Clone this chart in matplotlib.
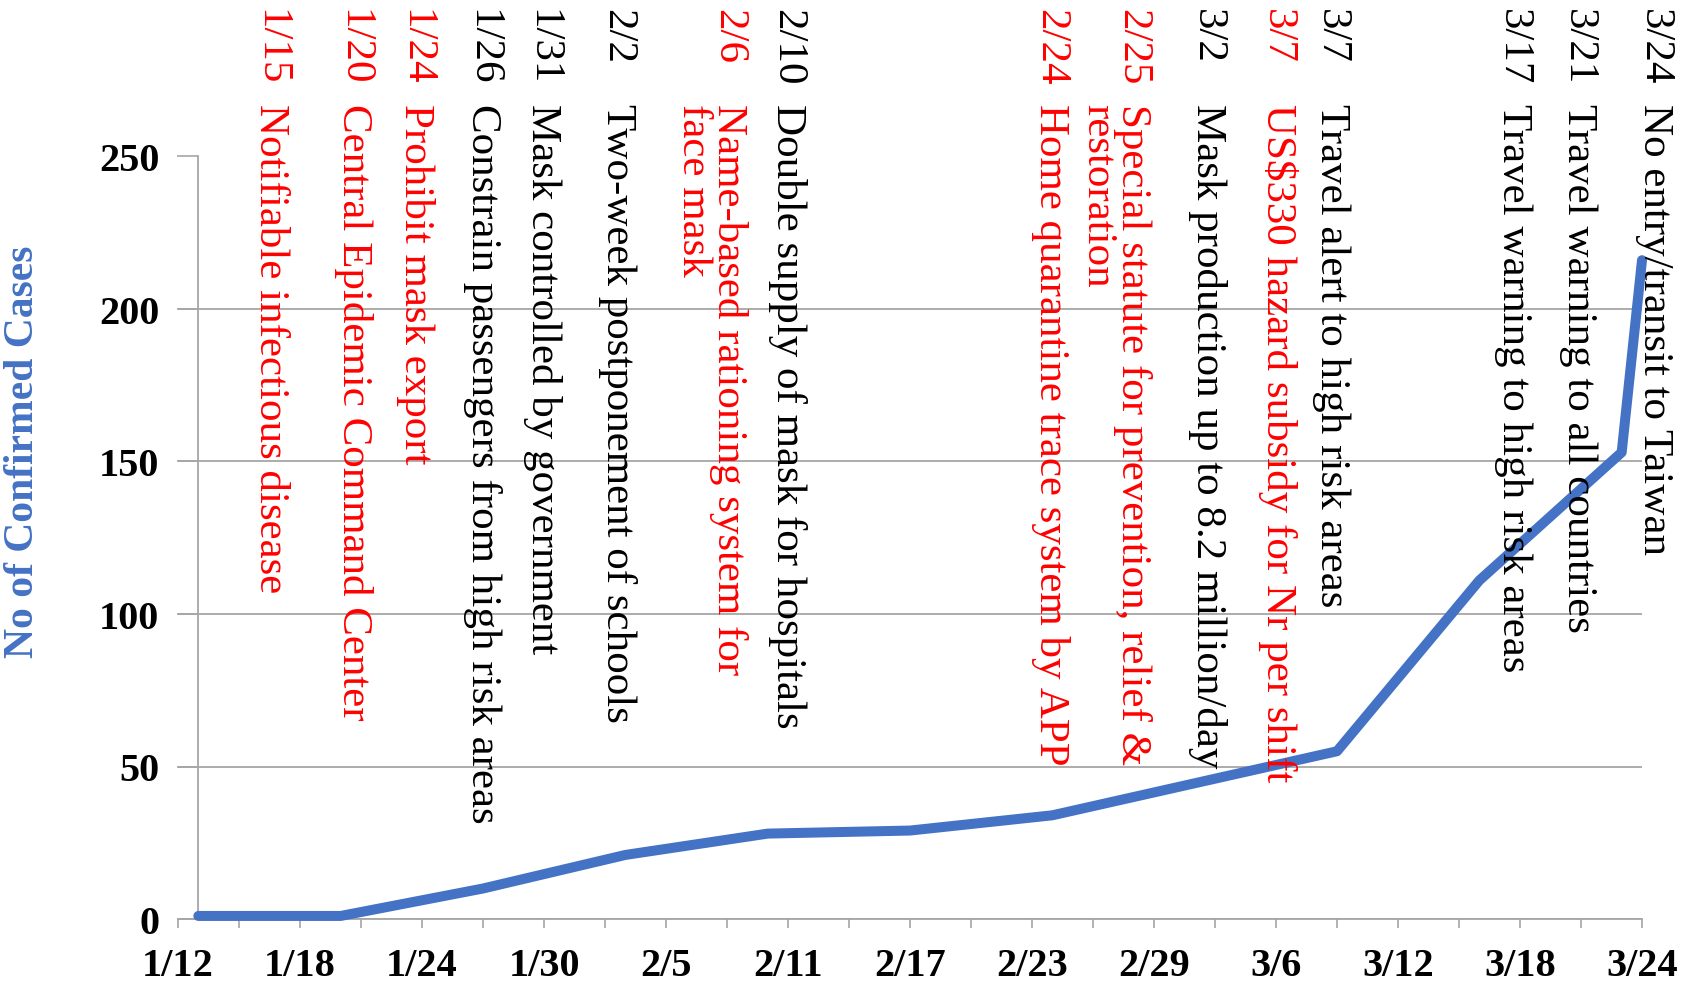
import pandas as pd
import matplotlib
matplotlib.use("Agg")
import matplotlib.pyplot as plt
import matplotlib.transforms as mtransforms

plt.rcParams["font.family"] = ["Liberation Serif", "DejaVu Serif"]

START = pd.Timestamp("2020-01-12")
END = pd.Timestamp("2020-03-24")

# cumulative confirmed cases
case_dates = ["2020-01-13", "2020-01-20", "2020-01-27", "2020-02-03", "2020-02-10",
              "2020-02-17", "2020-02-24", "2020-03-09", "2020-03-16", "2020-03-23",
              "2020-03-24"]
cases = [1, 1, 10, 21, 28, 29, 34, 55, 111, 153, 216]

y_ticks = [0, 50, 100, 150, 200, 250]

# policy notes
note_dates = ["1/15", "1/20", "1/24", "1/26", "1/31", "2/2", "2/6", "2/10",
              "2/24", "2/25", "3/2", "3/7", "3/7", "3/17", "3/21", "3/24"]
note_texts = [
    "Notifiable infectious disease",
    "Central Epidemic Command Center",
    "Prohibit mask export",
    "Constrain passengers from high risk areas",
    "Mask controlled by government",
    "Two-week postponement of schools",
    "Name-based rationing system for\nface mask",
    "Double supply of mask for hospitals",
    "Home quarantine trace system by APP",
    "Special statute for prevention, relief &\nrestoration",
    "Mask production up to 8.2 million/day",
    "US$330 hazard subsidy for Nr per shift",
    "Travel alert to high risk areas",
    "Travel warning to high risk areas",
    "Travel warning to all countries",
    "No entry/transit to Taiwan",
]
note_red = [True, True, True, False, False, False, True, False,
            True, True, False, True, False, False, False, False]

# where each note column sits (days after 1/12, baseline of first line)
note_x = [4.03, 8.12, 11.17, 14.46, 17.41, 21.10, 26.56, 29.46,
          42.40, 46.43, 50.12, 53.57, 56.22, 65.17, 68.37, 72.11]

BLUE = "#4472C4"
GRID = "#A6A6A6"

days = (pd.to_datetime(case_dates) - START).days
major = pd.date_range(START, END, freq="6D")
minor = pd.date_range(START, END, freq="3D")

W, H = 1685, 987
fig = plt.figure(figsize=(W / 100, H / 100), dpi=100)
ax = fig.add_axes([178 / W, 1 - 920 / H, (1642 - 178) / W, (920 - 157.5) / H])

ax.plot(days, cases, color=BLUE, lw=7.2, solid_capstyle="round",
        solid_joinstyle="round", clip_on=False, zorder=3)

ax.set_xlim(0, (END - START).days)
ax.set_ylim(0, 250)

for s in ("top", "right"):
    ax.spines[s].set_visible(False)
ax.spines["left"].set_position(("data", 1))
for s in ("left", "bottom"):
    ax.spines[s].set_color(GRID)
    ax.spines[s].set_linewidth(1.3)

ax.set_yticks(y_ticks)
ax.set_yticklabels([str(v) for v in y_ticks], fontweight="bold", fontsize=29)
ax.tick_params(axis="y", direction="out", length=15, width=1.2, color=GRID, pad=13)
ax.yaxis.grid(True, color=GRID, lw=1.3)
ax.set_axisbelow(True)

ax.set_xticks((major - START).days)
ax.set_xticklabels([f"{d.month}/{d.day}" for d in major], fontweight="bold", fontsize=29)
ax.set_xticks((minor - START).days, minor=True)
ax.tick_params(axis="x", which="both", direction="out", length=6.5, width=1.2,
               color=GRID, pad=14)

fig.text(23 / W, 1 - 452 / H, "No of Confirmed Cases", rotation=90, ha="center",
         va="center", color=BLUE, fontweight="bold", fontsize=30)

# ── rotated policy notes above the plot ──────────────────────────────
trans = mtransforms.blended_transform_factory(ax.transData, fig.transFigure)
date_y = 1 - 9 / H
desc_y = 1 - 104 / H
line_gap = 25.2  # points between baselines
for x, d, t, red in zip(note_x, note_dates, note_texts, note_red):
    c = "red" if red else "black"
    ax.text(x, date_y, d, transform=trans, rotation=270, rotation_mode="anchor",
            ha="left", va="baseline", color=c, fontsize=31, clip_on=False)
    for j, line in enumerate(t.split("\n")):
        tr = mtransforms.offset_copy(trans, fig=fig, x=-j * line_gap, units="points")
        ax.text(x, desc_y, line, transform=tr, rotation=270, rotation_mode="anchor",
                ha="left", va="baseline", color=c, fontsize=31, clip_on=False)

fig.savefig("out.png", dpi=100)
plt.close(fig)
